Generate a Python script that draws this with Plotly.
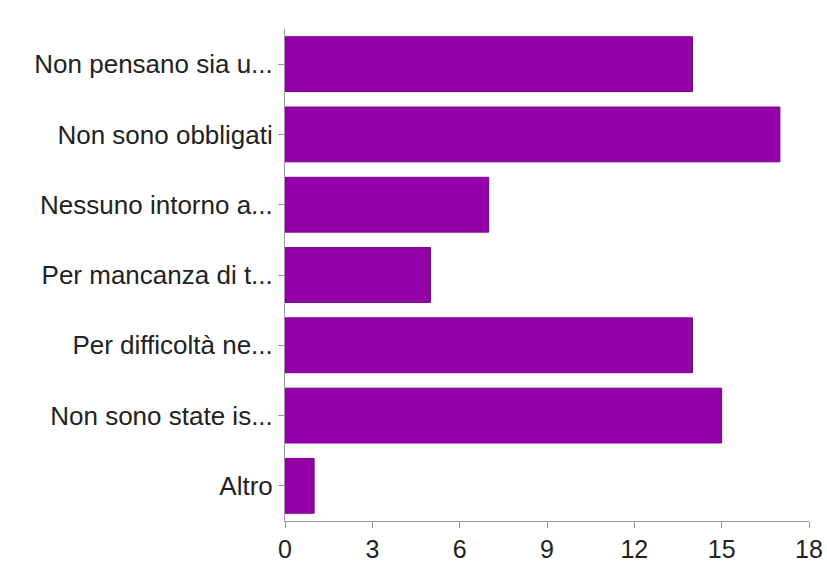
import plotly.graph_objects as go

categories = ["Non pensano sia u...", "Non sono obbligati", "Nessuno intorno a...",
              "Per mancanza di t...", "Per difficoltà ne...", "Non sono state is...", "Altro"]
values = [14, 17, 7, 5, 14, 15, 1]
tick_vals = [0, 3, 6, 9, 12, 15, 18]

fig = go.Figure(go.Bar(
    x=values, y=categories, orientation="h",
    marker=dict(color="#9300A8", line=dict(color="#7a0090", width=1)),
    width=0.78,
))
fig.update_layout(
    width=827, height=568,
    margin=dict(l=285, r=18, t=29, b=47, autoexpand=False),
    paper_bgcolor="white", plot_bgcolor="white",
    font=dict(family="Liberation Sans, Arial, sans-serif", size=26, color="#222"),
    showlegend=False,
)
fig.update_yaxes(
    categoryorder="array", categoryarray=categories, autorange="reversed",
    showline=True, linecolor="#999", linewidth=1,
    ticks="outside", ticklen=6, tickcolor="#999",
    showgrid=False, tickfont=dict(size=26), automargin=False,
)
fig.update_xaxes(
    range=[0, 18], tickvals=tick_vals,
    showline=True, linecolor="#999", linewidth=1,
    ticks="outside", ticklen=6, tickcolor="#999",
    showgrid=False, zeroline=False, tickfont=dict(size=25), automargin=False,
)
fig.write_html("out.html")
